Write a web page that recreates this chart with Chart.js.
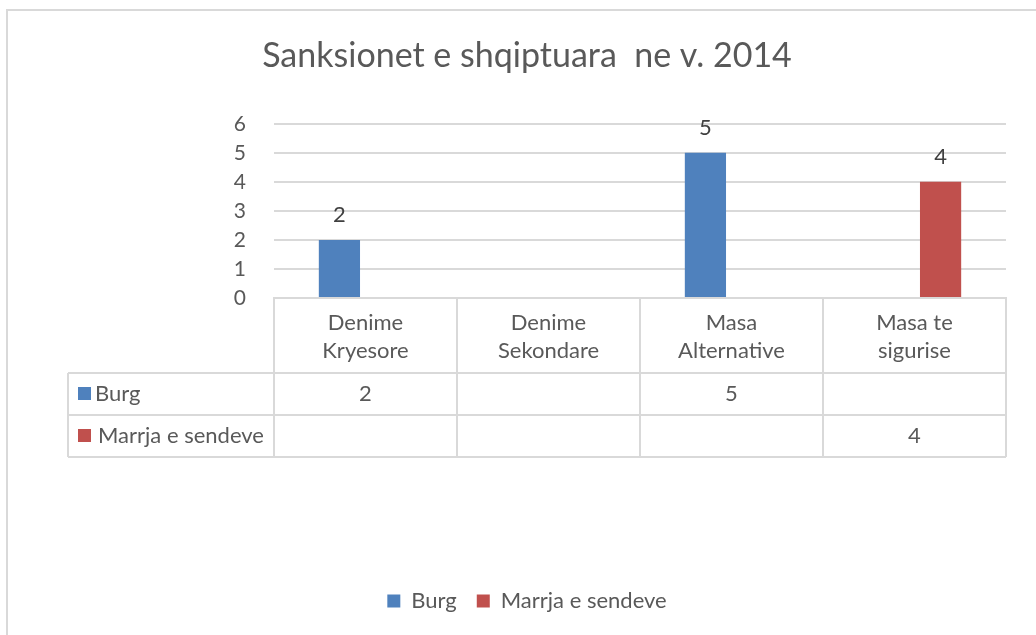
<!DOCTYPE html>
<html>
<head>
<meta charset="utf-8">
<title>Sanksionet e shqiptuara ne v. 2014</title>
<script src="https://cdn.jsdelivr.net/npm/chart.js@4/dist/chart.umd.min.js"></script>
<style>
  html, body { margin: 0; padding: 0; background: #fff; overflow: hidden; }
  .frame {
    position: absolute; left: 6px; top: 9px; width: 1100px; height: 700px;
    border-top: 2px solid #d9d9d9; border-left: 2px solid #d9d9d9;
  }
  #chart { position: absolute; left: 6px; top: 0; }
</style>
</head>
<body>
<div class="frame"></div>
<canvas id="chart" width="1042" height="635"></canvas>
<script>
// ==================== Data ====================
const TITLE = 'Sanksionet e shqiptuara  ne v. 2014';
const CATEGORIES = [
  ['Denime', 'Kryesore'],
  ['Denime', 'Sekondare'],
  ['Masa', 'Alternative'],
  ['Masa te', 'sigurise']
];
const BURG = [2, null, 5, null];
const MARRJA = [null, null, null, 4];
const SERIES_NAMES = ['Burg', 'Marrja e sendeve'];
const Y_MIN = 0;
const Y_MAX = 6;

(function() {
  'use strict';

  const FONT = 'Lato, "Open Sans", sans-serif';
  const TEXT = '#595959';
  const LINE = '#d9d9d9';
  const COLORS = ['#4f81bd', '#c0504d'];

  const HEADER_H = 75;
  const ROW_H = 42;
  const TABLE_LEFT = 62;

  // ==================== Plugins ====================

  // numbers on top of the bars
  const barLabels = {
    id: 'barLabels',
    afterDatasetsDraw(chart) {
      const ctx = chart.ctx;
      ctx.save();
      ctx.font = '22px ' + FONT;
      ctx.fillStyle = '#404040';
      ctx.textAlign = 'center';
      ctx.textBaseline = 'middle';
      chart.data.datasets.forEach((ds, i) => {
        chart.getDatasetMeta(i).data.forEach((bar, j) => {
          if (ds.data[j] == null) return;
          ctx.fillText(String(ds.data[j]), bar.x, bar.y - 25);
        });
      });
      ctx.restore();
    }
  };

  // data table under the plot
  const dataTable = {
    id: 'dataTable',
    afterDraw(chart) {
      const ctx = chart.ctx;
      const x = chart.scales.x;
      const top = chart.chartArea.bottom;
      const n = CATEGORIES.length;
      const colW = (x.right - x.left) / n;
      const rowsTop = top + HEADER_H;
      const bottom = rowsTop + ROW_H * chart.data.datasets.length;

      ctx.save();
      ctx.strokeStyle = LINE;
      ctx.lineWidth = 2;
      ctx.beginPath();
      // horizontal lines
      ctx.moveTo(x.left, top); ctx.lineTo(x.right, top);
      for (let r = 0; r <= chart.data.datasets.length; r++) {
        const y = rowsTop + r * ROW_H;
        ctx.moveTo(TABLE_LEFT, y); ctx.lineTo(x.right, y);
      }
      // vertical lines
      for (let c = 0; c <= n; c++) {
        const cx = Math.round(x.left + c * colW);
        ctx.moveTo(cx, top); ctx.lineTo(cx, bottom);
      }
      ctx.moveTo(TABLE_LEFT, rowsTop); ctx.lineTo(TABLE_LEFT, bottom);
      ctx.stroke();

      ctx.font = '22px ' + FONT;
      ctx.textBaseline = 'middle';
      chart.data.datasets.forEach((ds, r) => {
        const cy = rowsTop + r * ROW_H + ROW_H / 2;
        // legend key + series name
        ctx.fillStyle = ds.backgroundColor;
        ctx.fillRect(TABLE_LEFT + 10, cy - 7, 13, 13);
        ctx.fillStyle = TEXT;
        ctx.textAlign = 'left';
        ctx.fillText(ds.label, TABLE_LEFT + 27 + (r ? 3 : 0), cy);
        // values
        ctx.textAlign = 'center';
        ds.data.forEach((v, j) => {
          if (v == null) return;
          ctx.fillText(String(v), x.getPixelForValue(j), cy);
        });
      });
      ctx.restore();
    }
  };

  // ==================== Chart ====================

  function init() {
    const ctx = document.getElementById('chart').getContext('2d');

    new Chart(ctx, {
      type: 'bar',
      data: {
        labels: CATEGORIES,
        datasets: [
          { label: SERIES_NAMES[0], data: BURG, backgroundColor: COLORS[0] },
          { label: SERIES_NAMES[1], data: MARRJA, backgroundColor: COLORS[1] }
        ]
      },
      options: {
        responsive: false,
        animation: false,
        devicePixelRatio: 1,
        categoryPercentage: 0.57,
        barPercentage: 0.79,
        layout: { padding: { left: 42, right: 42, top: 0, bottom: 13 } },
        plugins: {
          title: {
            display: true,
            text: TITLE,
            color: TEXT,
            font: { family: FONT, size: 34, weight: 'normal', lineHeight: 1.2 },
            padding: { top: 36, bottom: 47 }
          },
          legend: {
            position: 'bottom',
            labels: {
              color: TEXT,
              font: { family: FONT, size: 22 },
              boxWidth: 13,
              boxHeight: 13,
              padding: 20
            }
          },
          tooltip: { enabled: false }
        },
        scales: {
          x: {
            grid: { display: false, drawTicks: false },
            border: { display: true, color: LINE, width: 2 },
            ticks: {
              color: TEXT,
              padding: 11,
              font: { family: FONT, size: 22, lineHeight: 1.27 }
            },
            afterFit: scale => { scale.height = 272; }
          },
          y: {
            min: Y_MIN,
            max: Y_MAX,
            grid: { color: LINE, lineWidth: 2, drawTicks: false },
            border: { display: false },
            ticks: {
              stepSize: 1,
              color: TEXT,
              padding: 28,
              font: { family: FONT, size: 21 }
            },
            afterFit: scale => { scale.width = 226; }
          }
        }
      },
      plugins: [barLabels, dataTable]
    });
  }

  if (document.readyState === 'loading') {
    document.addEventListener('DOMContentLoaded', init);
  } else {
    init();
  }
})();
</script>
</body>
</html>
